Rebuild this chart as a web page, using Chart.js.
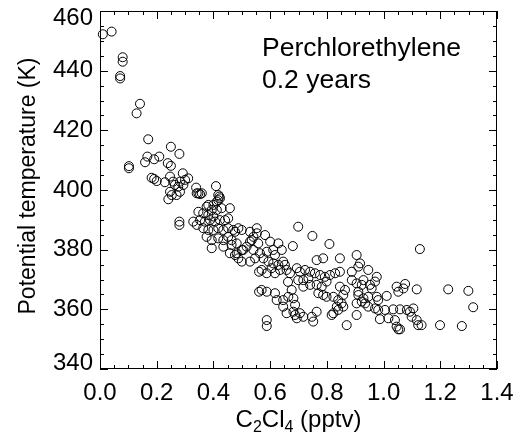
<!DOCTYPE html>
<html>
<head>
<meta charset="utf-8">
<script src="https://cdn.jsdelivr.net/npm/chart.js@4"></script>
<style>
html,body{margin:0;padding:0;background:#fff;}
#wrap{width:516px;height:434px;position:relative;}
</style>
</head>
<body>
<div id="wrap"><canvas id="c" width="516" height="434"></canvas></div>
<script>
// C2Cl4 mixing ratio (pptv)
const c2cl4Pptv = [
0.010,0.041,0.080,0.080,0.071,0.071,0.141,0.129,0.170,0.250,
0.280,0.167,0.209,0.191,0.159,0.239,0.250,0.102,0.102,0.292,
0.182,0.191,0.200,0.229,0.247,0.258,0.264,0.282,0.300,0.311,
0.339,0.409,0.341,0.359,0.253,0.270,0.421,0.241,0.353,0.417,
0.276,0.294,0.247,0.282,0.347,0.417,0.423,0.412,0.400,0.382,
0.394,0.412,0.429,0.458,0.347,0.364,0.382,0.400,0.353,0.370,
0.388,0.406,0.423,0.441,0.452,0.280,0.280,0.329,0.341,0.364,
0.382,0.400,0.417,0.435,0.452,0.470,0.488,0.500,0.376,0.394,
0.417,0.435,0.452,0.394,0.435,0.464,0.482,0.458,0.482,0.500,
0.517,0.529,0.541,0.553,0.476,0.529,0.553,0.376,0.464,0.476,
0.488,0.500,0.505,0.529,0.561,0.561,0.699,0.749,0.809,0.680,
0.582,0.535,0.558,0.600,0.629,0.641,0.541,0.564,0.588,0.611,
0.617,0.547,0.576,0.594,0.611,0.629,0.646,0.652,0.570,0.588,
0.605,0.617,0.635,0.658,0.670,0.694,0.705,0.723,0.741,0.758,
0.776,0.793,0.811,0.829,0.846,0.764,0.787,0.846,0.888,0.905,
0.699,0.717,0.735,0.717,0.741,0.764,0.782,0.770,0.799,0.787,
0.799,0.570,0.588,0.617,0.623,0.646,0.664,0.682,0.646,0.658,
0.682,0.705,0.717,0.694,0.747,0.752,0.764,0.588,0.588,0.823,
0.840,0.852,0.858,0.840,0.823,0.846,0.864,0.858,0.870,0.888,
0.905,0.817,0.688,0.835,1.128,0.917,0.911,0.946,0.976,0.970,
0.929,0.923,0.911,0.952,0.958,0.911,0.929,0.946,0.976,0.981,
1.011,0.905,0.923,0.946,0.970,0.981,1.005,0.905,0.987,1.017,
1.040,1.046,1.052,1.058,1.034,1.058,1.082,1.093,1.105,1.099,
1.117,1.122,1.134,1.046,1.052,1.070,1.076,1.117,1.228,1.299,
1.316,1.199,1.276,0.935,0.663,0.676,0.688
];
// Potential temperature (K)
const thetaK = [
452.2,453.1,444.5,443.0,438.2,437.4,428.9,425.7,417.0,414.5,
412.1,411.2,411.2,410.3,409.3,409.0,408.1,408.0,407.3,405.6,
404.1,403.7,403.0,402.6,404.5,402.8,401.7,402.8,403.4,403.9,
400.8,401.3,398.9,398.9,398.3,398.3,397.8,396.9,398.6,396.6,
401.1,401.7,399.4,399.4,398.9,398.3,397.2,396.1,395.0,395.0,
393.3,393.3,393.9,393.9,392.7,392.2,391.6,391.1,389.9,389.4,
389.9,389.4,389.9,389.9,390.5,389.4,388.3,389.4,388.3,387.2,
386.6,386.6,387.2,386.6,387.2,386.6,387.2,386.6,384.3,383.2,
383.8,383.2,384.3,380.5,381.0,381.6,382.1,378.8,378.8,379.9,
381.0,382.7,384.3,385.5,386.0,386.0,387.2,394.4,383.2,378.2,
377.1,376.0,379.9,376.0,372.6,365.9,387.7,384.6,381.9,381.2,
384.9,383.2,382.1,382.7,382.1,379.9,379.9,378.8,379.3,379.9,
378.2,377.1,377.1,376.0,375.4,374.9,376.0,374.9,373.2,372.1,
373.8,372.1,373.2,373.2,372.1,373.8,372.6,373.2,372.6,372.1,
371.5,370.9,371.5,372.1,372.6,376.5,377.1,377.1,372.6,378.2,
369.8,369.8,370.4,367.6,368.2,368.2,367.6,365.4,369.3,364.8,
364.2,366.5,365.9,365.4,363.1,363.1,364.2,363.7,360.9,358.7,
359.2,358.7,357.5,357.0,357.5,355.9,359.2,356.4,354.4,364.2,
363.1,362.0,360.9,359.8,358.7,367.6,366.5,364.8,354.7,369.8,
368.7,358.1,358.1,360.9,380.2,375.4,374.3,373.2,370.9,369.3,
369.8,368.2,365.9,368.2,367.0,364.8,363.7,364.2,364.2,363.1,
364.5,362.0,362.6,360.9,360.3,359.8,359.8,358.1,356.7,357.0,
356.4,354.2,353.3,353.3,360.0,360.0,359.8,359.2,360.3,357.5,
356.4,354.7,354.7,367.6,365.9,367.0,368.5,366.7,366.7,366.2,
360.7,354.7,354.4,362.0,369.2,366.5,361.5
];
const xTickValues = [0.0, 0.2, 0.4, 0.6, 0.8, 1.0, 1.2, 1.4];
const xTickLabels = ['0.0', '0.2', '0.4', '0.6', '0.8', '1.0', '1.2', '1.4'];
const yTickValues = [340, 360, 380, 400, 420, 440, 460];
const yTickLabels = ['340', '360', '380', '400', '420', '440', '460'];
const yTitle = 'Potential temperature (K)';
const xTitleParts = [['C', false], ['2', true], ['Cl', false], ['4', true], [' (pptv)', false]];
const annotationLines = ['Perchlorethylene', '0.2 years'];

const FONT = '"Liberation Sans", Arial, Helvetica, sans-serif';

const framePlugin = {
  id: 'framePlugin',
  afterDraw(chart) {
    const ctx = chart.ctx;
    const a = chart.chartArea;
    const xs = chart.scales.x, ys = chart.scales.y;
    ctx.save();
    ctx.strokeStyle = '#000';
    ctx.lineWidth = 1;
    // frame
    ctx.strokeRect(a.left + 0.5, a.top + 0.5, a.right - a.left - 1, a.bottom - a.top - 1);
    // inward ticks
    ctx.beginPath();
    for (let i = 0; i <= 28; i++) {
      const px = Math.round(xs.getPixelForValue(i * 0.05)) + 0.5;
      const len = (i % 4 === 0) ? 8 : 4;
      ctx.moveTo(px, a.bottom); ctx.lineTo(px, a.bottom - len);
      ctx.moveTo(px, a.top); ctx.lineTo(px, a.top + len);
    }
    for (let v = 340; v <= 460; v += 5) {
      const py = Math.round(ys.getPixelForValue(v)) + 0.5;
      const len = ((v - 340) % 20 === 0) ? 8 : 4;
      ctx.moveTo(a.left, py); ctx.lineTo(a.left + len, py);
      ctx.moveTo(a.right, py); ctx.lineTo(a.right - len, py);
    }
    ctx.stroke();
    // y tick labels
    ctx.fillStyle = '#000';
    ctx.font = '24px ' + FONT;
    ctx.textAlign = 'right';
    ctx.textBaseline = 'middle';
    yTickValues.forEach((v, i) => {
      let py = ys.getPixelForValue(v);
      py = Math.min(Math.max(py, a.top + 7), a.bottom - 6);
      ctx.fillText(yTickLabels[i], a.left - 7, py);
    });
    // y title
    ctx.save();
    ctx.translate(35, (a.top + a.bottom) / 2 - 4);
    ctx.rotate(-Math.PI / 2);
    ctx.font = '23px ' + FONT;
    ctx.textAlign = 'center';
    ctx.textBaseline = 'alphabetic';
    ctx.fillText(yTitle, 0, 0);
    ctx.restore();
    // x title with subscripts
    const big = '24px ' + FONT, small = '16px ' + FONT;
    let total = 0;
    xTitleParts.forEach(p => { ctx.font = p[1] ? small : big; total += ctx.measureText(p[0]).width; });
    let cx = (a.left + a.right) / 2 - total / 2;
    ctx.textAlign = 'left';
    ctx.textBaseline = 'alphabetic';
    xTitleParts.forEach(p => {
      ctx.font = p[1] ? small : big;
      ctx.fillText(p[0], cx, p[1] ? 432 : 427);
      cx += ctx.measureText(p[0]).width;
    });
    // annotation
    ctx.font = '26.5px ' + FONT;
    ctx.fillText(annotationLines[0], 262, 56);
    ctx.fillText(annotationLines[1], 262, 88);
    ctx.restore();
  }
};

new Chart(document.getElementById('c'), {
  type: 'scatter',
  data: {
    datasets: [{
      data: c2cl4Pptv.map((v, i) => ({ x: v, y: thetaK[i] })),
      pointRadius: 4.5,
      pointHoverRadius: 4.5,
      pointBorderWidth: 1,
      pointBorderColor: '#000',
      pointBackgroundColor: 'rgba(0,0,0,0)',
      showLine: false,
      clip: false
    }]
  },
  options: {
    responsive: false,
    animation: false,
    devicePixelRatio: 1,
    events: [],
    layout: { padding: { top: 11, right: 19, left: 0, bottom: 0 } },
    plugins: { legend: { display: false }, tooltip: { enabled: false } },
    scales: {
      x: {
        type: 'linear',
        min: 0, max: 1.4,
        grid: { display: false, drawTicks: false },
        border: { display: false },
        afterBuildTicks: s => { s.ticks = xTickValues.map(v => ({ value: v })); },
        ticks: {
          color: '#000',
          font: { family: FONT, size: 24 },
          padding: 10,
          maxRotation: 0,
          autoSkip: false,
          callback: (v, i) => xTickLabels[i]
        },
        afterFit: s => { s.height = 65; s.paddingLeft = 0; s.paddingRight = 0; }
      },
      y: {
        type: 'linear',
        min: 340, max: 460,
        grid: { display: false, drawTicks: false },
        border: { display: false },
        ticks: { display: false, stepSize: 20 },
        afterFit: s => { s.width = 100; s.paddingTop = 0; s.paddingBottom = 0; }
      }
    }
  },
  plugins: [framePlugin]
});
</script>
</body>
</html>
